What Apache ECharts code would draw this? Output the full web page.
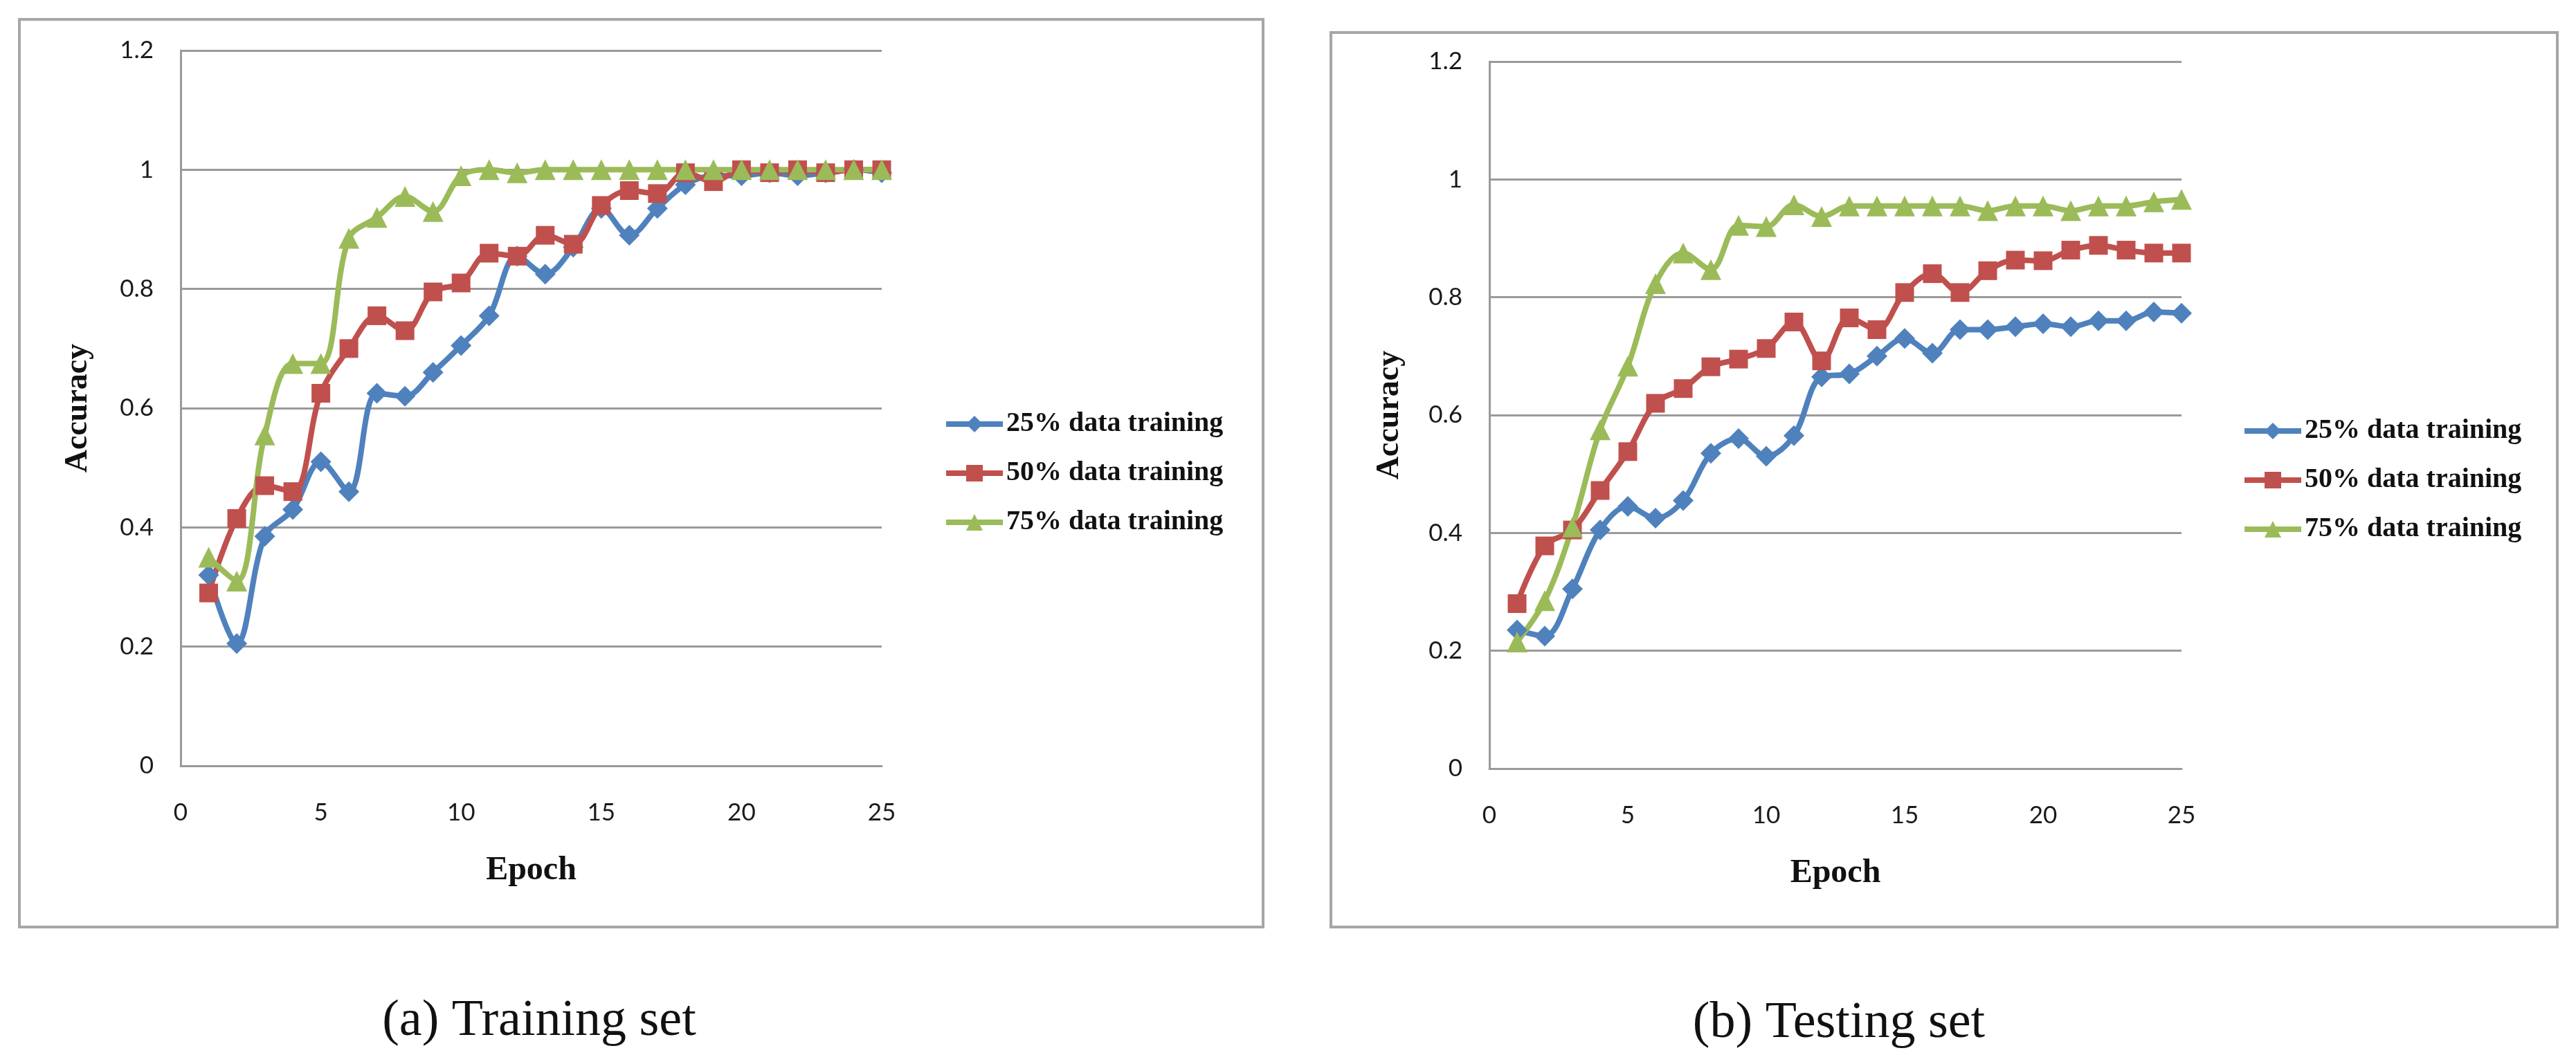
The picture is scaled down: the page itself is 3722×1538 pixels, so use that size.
<!DOCTYPE html>
<html>
<head>
<meta charset="utf-8">
<script src="https://cdn.jsdelivr.net/npm/echarts@6/dist/echarts.min.js"></script>
<style>
html,body{margin:0;padding:0;background:#fff;}
#main{width:3722px;height:1538px;}
</style>
</head>
<body>
<div id="main"></div>
<script>
const epochs = [1,2,3,4,5,6,7,8,9,10,11,12,13,14,15,16,17,18,19,20,21,22,23,24,25];
const seriesNames = ['25% data training', '50% data training', '75% data training'];
const yTicks = [0, 0.2, 0.4, 0.6, 0.8, 1, 1.2];
const xTicks = [0, 5, 10, 15, 20, 25];
const captions = ['(a) Training set', '(b) Testing set'];

const trainBlue  = [0.32,0.205,0.385,0.43,0.51,0.46,0.625,0.62,0.66,0.705,0.755,0.855,0.825,0.87,0.935,0.89,0.935,0.975,0.99,0.99,0.995,0.99,0.995,1.0,0.995];
const trainRed   = [0.29,0.415,0.47,0.46,0.625,0.70,0.755,0.73,0.795,0.81,0.86,0.855,0.89,0.875,0.94,0.965,0.96,0.995,0.98,1.0,0.995,1.0,0.995,1.0,1.0];
const trainGreen = [0.35,0.31,0.555,0.675,0.675,0.885,0.92,0.955,0.93,0.99,1.0,0.995,1.0,1.0,1.0,1.0,1.0,1.0,1.0,1.0,1.0,1.0,1.0,1.0,1.0];

const testBlue  = [0.235,0.225,0.305,0.405,0.445,0.425,0.455,0.535,0.56,0.53,0.565,0.665,0.67,0.70,0.73,0.705,0.745,0.745,0.75,0.755,0.75,0.76,0.76,0.775,0.773];
const testRed   = [0.28,0.378,0.405,0.472,0.538,0.62,0.645,0.682,0.695,0.713,0.758,0.692,0.765,0.745,0.808,0.84,0.808,0.845,0.863,0.862,0.88,0.888,0.88,0.875,0.875];
const testGreen = [0.215,0.285,0.41,0.575,0.683,0.823,0.875,0.847,0.922,0.92,0.957,0.937,0.955,0.955,0.955,0.955,0.955,0.947,0.955,0.955,0.947,0.955,0.955,0.962,0.966];

const colors = ['#4F81BD', '#C0504D', '#9BBB59'];
const symbols = ['diamond', 'rect', 'triangle'];
const symbolSizes = [30, 27, 30];

const pairs = arr => arr.map((v, i) => [epochs[i], v]);

const chart = echarts.init(document.getElementById('main'), null, {renderer: 'canvas'});

const tickFont = {fontFamily: 'Lato', fontSize: 35, color: '#1a1a1a'};
const serifBold = {fontFamily: 'Liberation Serif', fontWeight: 'bold', color: '#111'};
const gridGray = '#9a9a9a';

function xAxis(gi) {
  return {
    type: 'value', gridIndex: gi, min: xTicks[0], max: xTicks[xTicks.length - 1], interval: 5,
    name: 'Epoch', nameLocation: 'middle', nameGap: 128,
    nameTextStyle: Object.assign({fontSize: 48}, serifBold),
    axisLine: {show: true, lineStyle: {color: gridGray, width: 3}},
    axisTick: {show: false},
    splitLine: {show: false},
    axisLabel: Object.assign({margin: 50}, tickFont)
  };
}
function yAxis(gi, gap) {
  return {
    type: 'value', gridIndex: gi, min: yTicks[0], max: yTicks[yTicks.length - 1], interval: 0.2,
    name: 'Accuracy', nameLocation: 'middle', nameGap: gap,
    nameTextStyle: Object.assign({fontSize: 46}, serifBold),
    axisLine: {show: true, lineStyle: {color: gridGray, width: 3}},
    axisTick: {show: false},
    splitLine: {show: true, lineStyle: {color: gridGray, width: 3}},
    axisLabel: Object.assign({margin: 39, formatter: v => String(+v.toFixed(1))}, tickFont)
  };
}
function mkSeries(gi, arrs) {
  return arrs.map((arr, k) => ({
    name: seriesNames[k], type: 'line', xAxisIndex: gi, yAxisIndex: gi,
    data: pairs(arr), smooth: 0.35,
    symbol: symbols[k], symbolSize: symbolSizes[k], showSymbol: true,
    lineStyle: {color: colors[k], width: 8},
    itemStyle: {color: colors[k]},
    emphasis: {disabled: true}, animation: false
  }));
}

const legendText = Object.assign({fontSize: 40, lineHeight: 40}, serifBold);

function legend(left, top) {
  return {orient: 'vertical', left: left, top: top, padding: 0, itemWidth: 82, itemHeight: 30, itemGap: 31,
    data: seriesNames, textStyle: legendText, selectedMode: false,
    lineStyle: {width: 8}};
}

chart.setOption({
  animation: false,
  backgroundColor: '#ffffff',
  grid: [
    {left: 261, top: 73, width: 1013, height: 1034},
    {left: 2152, top: 89, width: 1000, height: 1022}
  ],
  xAxis: [xAxis(0), xAxis(1)],
  yAxis: [yAxis(0, 125), yAxis(1, 121)],
  legend: [legend(1363, 593), legend(3239, 603)],
  graphic: [
    {type: 'rect', shape: {x: 28, y: 28, width: 1797, height: 1312}, style: {fill: 'none', stroke: '#a6a6a6', lineWidth: 4}, silent: true, z: -10},
    {type: 'rect', shape: {x: 1923, y: 47, width: 1772, height: 1293}, style: {fill: 'none', stroke: '#a6a6a6', lineWidth: 4}, silent: true, z: -10},
    {type: 'text', x: 779, y: 1477, style: {text: captions[0], font: '74px "Liberation Serif"', fill: '#111', textAlign: 'center', textVerticalAlign: 'middle'}, silent: true},
    {type: 'text', x: 2657, y: 1480, style: {text: captions[1], font: '74px "Liberation Serif"', fill: '#111', textAlign: 'center', textVerticalAlign: 'middle'}, silent: true}
  ],
  series: mkSeries(0, [trainBlue, trainRed, trainGreen]).concat(mkSeries(1, [testBlue, testRed, testGreen]))
});
</script>
</body>
</html>
